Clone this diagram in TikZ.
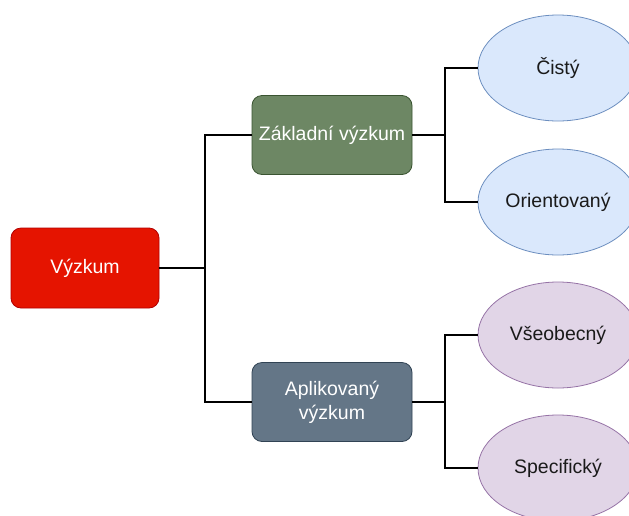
\documentclass[tikz,border=0pt]{standalone}
\usepackage{fontspec}
\setmainfont{Liberation Sans}
\usetikzlibrary{shapes.geometric}
\definecolor{redfill}{HTML}{E51400}
\definecolor{redline}{HTML}{B20000}
\definecolor{greenfill}{HTML}{6D8764}
\definecolor{greenline}{HTML}{3A5431}
\definecolor{slatefill}{HTML}{647687}
\definecolor{slateline}{HTML}{314354}
\definecolor{bluefill}{HTML}{DAE8FC}
\definecolor{blueline}{HTML}{6C8EBF}
\definecolor{lilacfill}{HTML}{E1D5E7}
\definecolor{lilacline}{HTML}{9673A6}
\definecolor{inktext}{HTML}{1A1A1A}
\tikzset{
  box/.style={rectangle, rounded corners=10pt, minimum width=148pt, minimum height=80pt,
    inner sep=0pt, line width=0.8pt, text=white, align=center,
    font=\fontsize{19.5}{24}\selectfont},
  leaf/.style={ellipse, minimum width=160pt, minimum height=106pt, inner sep=0pt,
    line width=0.8pt, text=inktext, font=\fontsize{19.5}{24}\selectfont},
  link/.style={line width=2pt, black}
}
\begin{document}
\begin{tikzpicture}[x=1pt, y=-1pt]
\useasboundingbox (0,0) rectangle (629,515);
% root and the two branches
\node[box, fill=redfill, draw=redline] (vyzkum) at (85,268) {Výzkum};
\node[box, minimum width=160pt, minimum height=79pt, fill=greenfill, draw=greenline] (zakladni) at (332,135) {Základní výzkum};
\node[box, minimum width=160pt, minimum height=79pt, fill=slatefill, draw=slateline] (aplikovany) at (332,402) {Aplikovaný\\výzkum};
% leaves
\node[leaf, fill=bluefill, draw=blueline] (cisty) at (558,68) {Čistý};
\node[leaf, fill=bluefill, draw=blueline] (orient) at (558,202) {Orientovaný};
\node[leaf, fill=lilacfill, draw=lilacline] (vseob) at (558,335) {Všeobecný};
\node[leaf, fill=lilacfill, draw=lilacline] (specif) at (558,468) {Specifický};
% elbow connectors
\draw[link] (vyzkum.east) -- ++(46,0) |- (zakladni.west);
\draw[link] (vyzkum.east) -- ++(46,0) |- (aplikovany.west);
\draw[link] (zakladni.east) -- ++(33,0) |- (cisty.west);
\draw[link] (zakladni.east) -- ++(33,0) |- (orient.west);
\draw[link] (aplikovany.east) -- ++(33,0) |- (vseob.west);
\draw[link] (aplikovany.east) -- ++(33,0) |- (specif.west);
\end{tikzpicture}
\end{document}
